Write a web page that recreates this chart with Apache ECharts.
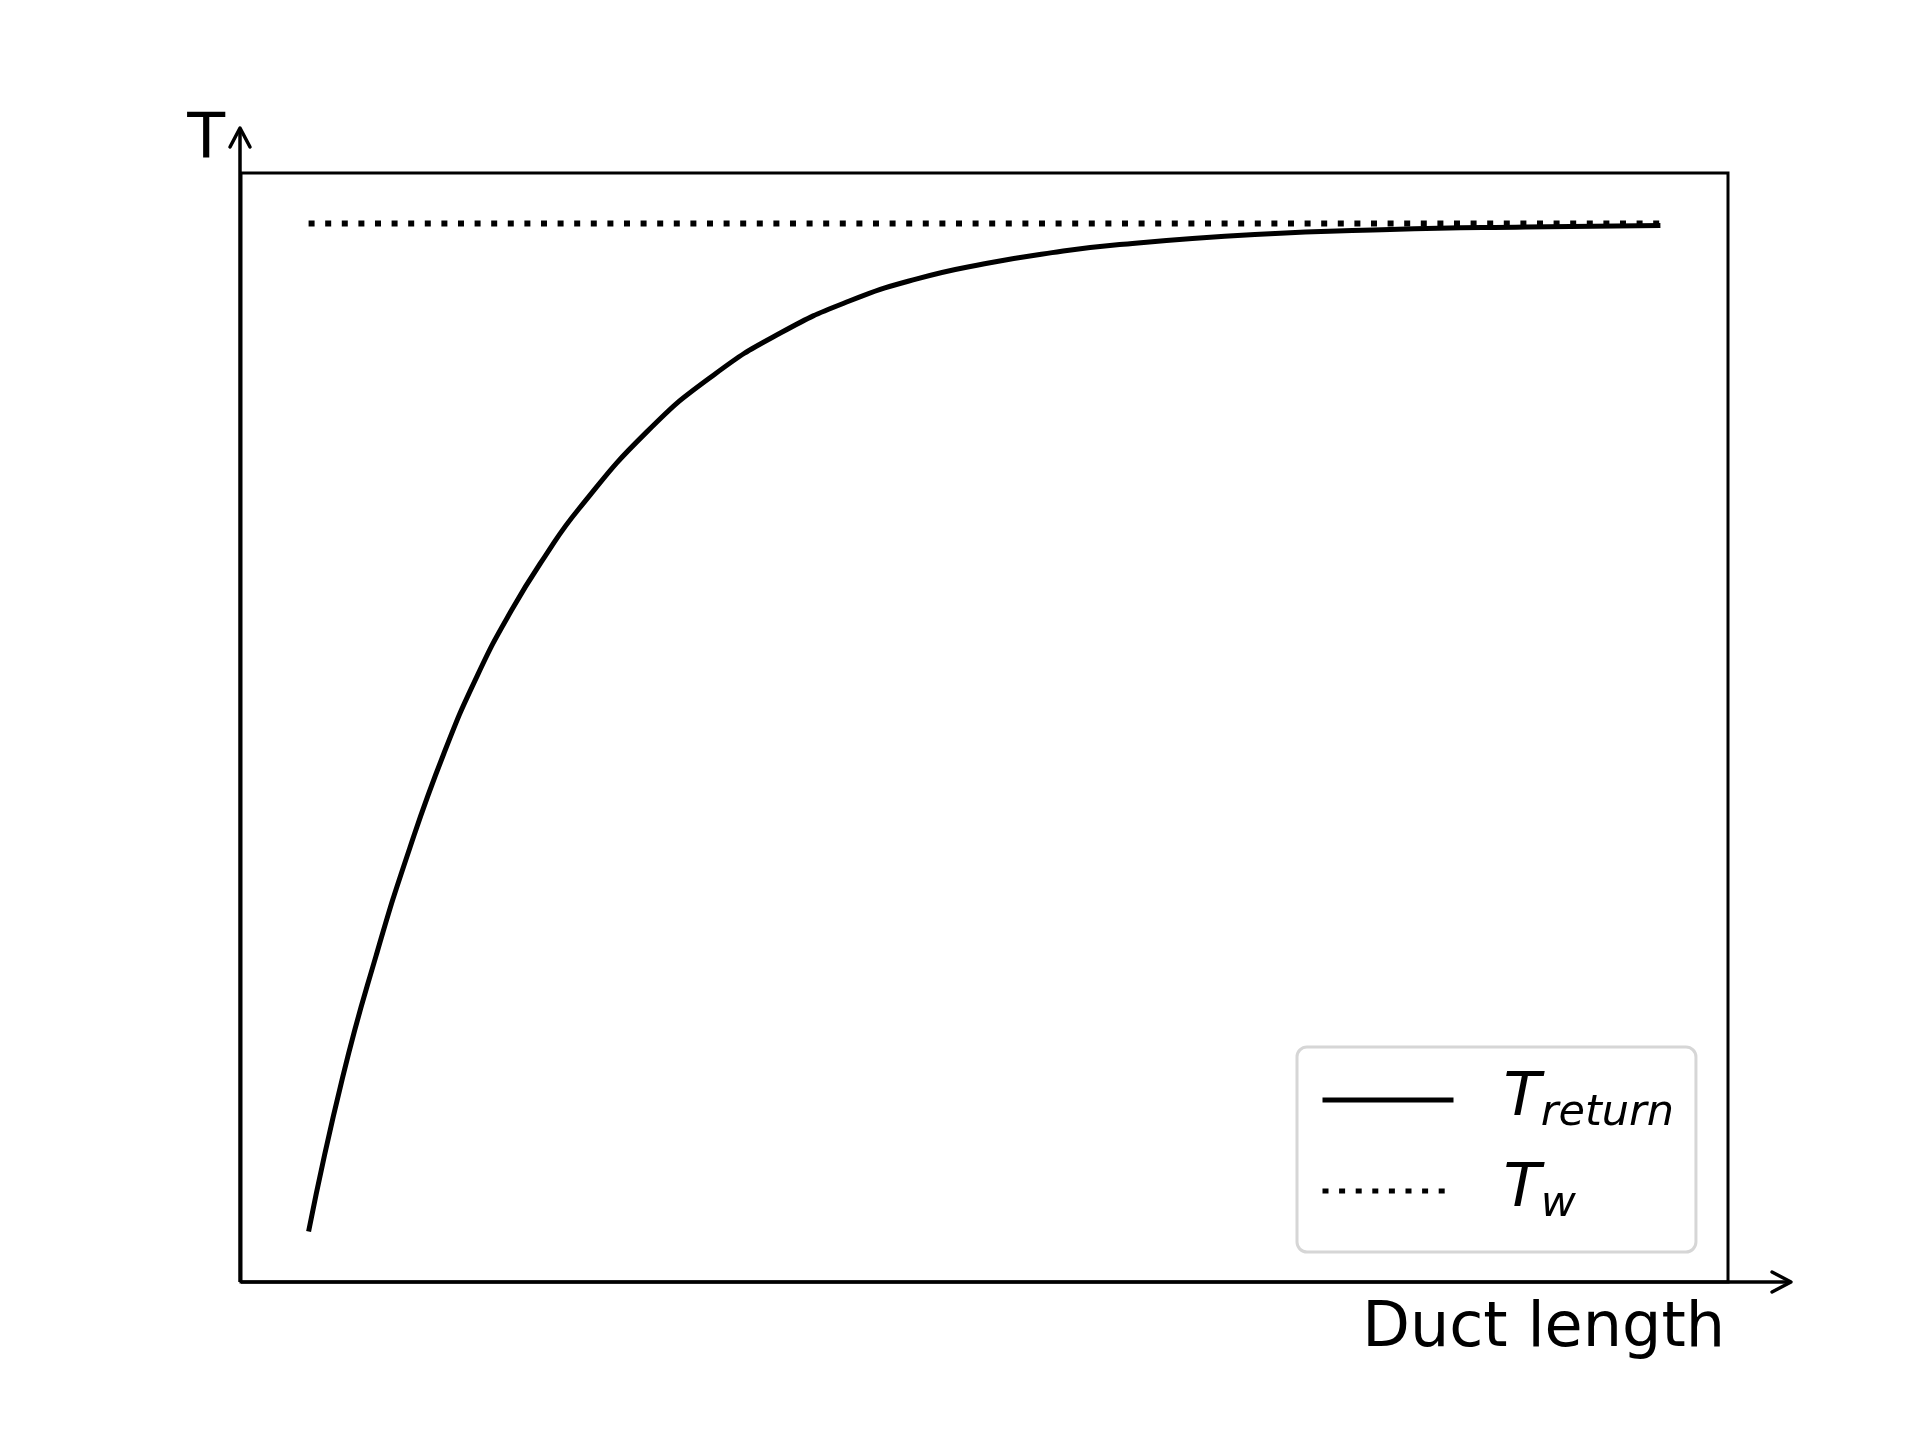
<!DOCTYPE html>
<html>
<head>
<meta charset="utf-8">
<script src="https://cdn.jsdelivr.net/npm/echarts@6/dist/echarts.min.js"></script>
<style>
html,body{margin:0;padding:0;background:#fff;}
#chart{width:1920px;height:1440px;}
</style>
</head>
<body>
<div id="chart"></div>
<script>
// ---- data (arbitrary units) ----
const ductLength = [0, 2.5, 5, 7.5, 10, 12.5, 15, 17.5, 20, 25, 30, 35, 40, 45, 50, 55, 60, 70, 80, 90, 100];
const tReturn    = [0, 15.2, 27.4, 38.1, 47.4, 55.2, 61.6, 67.0, 71.7, 79.3, 85.0, 89.2, 92.3, 94.5, 96.0, 97.1, 97.9, 98.9, 99.4, 99.65, 99.8];
const wallX = [0, 100];
const tWall = [100, 100];
const seriesNames = ['T_return', 'T_w'];
const xName = 'Duct length';
const yName = 'T';

// ---- layout ----
const W = 1920, H = 1440;
const G = { left: 241, right: 192, top: 173, bottom: 158 };
const axisY = H - G.bottom;      // x-axis line position
const axisX = G.left - 1;        // y-axis line position
const yTip = G.top - 45;
const xTip = W - G.right + 63;

const chart = echarts.init(document.getElementById('chart'), null, { renderer: 'canvas' });
const FONT = 'DejaVu Sans';

const option = {
  backgroundColor: '#ffffff',
  animation: false,
  grid: {
    left: G.left, right: G.right, top: G.top, bottom: G.bottom,
    show: true, borderColor: '#000', borderWidth: 3, backgroundColor: 'transparent'
  },
  xAxis: {
    type: 'value', min: -5, max: 105,
    axisLine: { show: false }, axisTick: { show: false }, axisLabel: { show: false }, splitLine: { show: false }
  },
  yAxis: {
    type: 'value', min: -5, max: 105,
    axisLine: { show: false }, axisTick: { show: false }, axisLabel: { show: false }, splitLine: { show: false }
  },
  legend: {
    data: seriesNames,
    orient: 'vertical',
    left: 1297, top: 1047,
    itemWidth: 131, itemHeight: 20, itemGap: 25,
    padding: [22, 22, 26, 23],
    borderColor: '#d6d6d6', borderWidth: 3, borderRadius: 10,
    backgroundColor: 'rgba(255,255,255,0.8)',
    selectedMode: false,
    itemStyle: { opacity: 0 },
    lineStyle: { width: 5 },
    formatter: function (name) {
      const parts = name.split('_');
      return '{t|' + parts[0] + '}{s|' + parts[1] + '}';
    },
    textStyle: {
      padding: [0, 0, 0, 45],
      rich: {
        t: { fontFamily: FONT, fontStyle: 'italic', fontSize: 61, color: '#000', lineHeight: 70, verticalAlign: 'bottom', padding: [0, 0, 5, 0] },
        s: { fontFamily: FONT, fontStyle: 'italic', fontSize: 43, color: '#000', lineHeight: 70, verticalAlign: 'bottom' }
      }
    }
  },
  series: [
    {
      name: seriesNames[0], type: 'line', smooth: 0.5, symbol: 'none', z: 3,
      data: ductLength.map((x, i) => [x, tReturn[i]]),
      lineStyle: { color: '#000', width: 5 },
      itemStyle: { color: '#000' }
    },
    {
      name: seriesNames[1], type: 'line', symbol: 'none', z: 4,
      data: wallX.map((x, i) => [x, tWall[i]]),
      lineStyle: { color: '#000', width: 6, type: [6, 10.6], cap: 'butt' },
      itemStyle: { color: '#000' }
    }
  ],
  graphic: [
    { type: 'line', z: 10, shape: { x1: axisX, y1: axisY, x2: axisX, y2: yTip }, style: { stroke: '#000', lineWidth: 3.5 } },
    { type: 'polyline', z: 10, shape: { points: [[axisX - 10, yTip + 19], [axisX, yTip], [axisX + 10, yTip + 19]] }, style: { stroke: '#000', lineWidth: 3.5, fill: null, lineCap: 'round', lineJoin: 'round' } },
    { type: 'line', z: 10, shape: { x1: G.left, y1: axisY, x2: xTip, y2: axisY }, style: { stroke: '#000', lineWidth: 3.5 } },
    { type: 'polyline', z: 10, shape: { points: [[xTip - 19, axisY - 10], [xTip, axisY], [xTip - 19, axisY + 10]] }, style: { stroke: '#000', lineWidth: 3.5, fill: null, lineCap: 'round', lineJoin: 'round' } },
    { type: 'text', z: 10, x: axisX - 15, y: yTip + 13,
      style: { text: yName, fontFamily: FONT, fontSize: 62, fill: '#000', textAlign: 'right', textVerticalAlign: 'middle', align: 'right', verticalAlign: 'middle' } },
    { type: 'text', z: 10, x: W - G.right - 3, y: axisY + 48,
      style: { text: xName, fontFamily: FONT, fontSize: 62, fill: '#000', textAlign: 'right', textVerticalAlign: 'middle', align: 'right', verticalAlign: 'middle' } }
  ]
};
chart.setOption(option);
</script>
</body>
</html>
